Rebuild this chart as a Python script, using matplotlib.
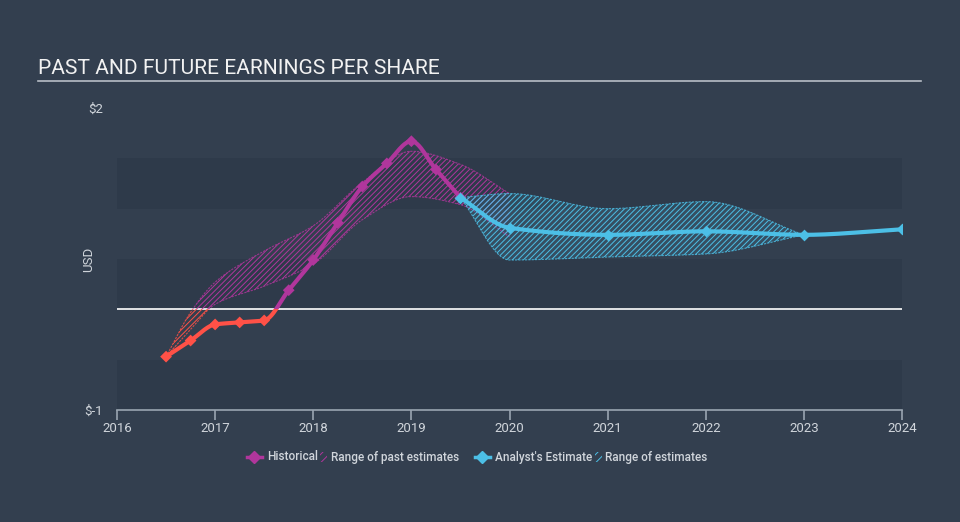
import numpy as np
import matplotlib.pyplot as plt
from matplotlib.patches import Rectangle
from matplotlib.lines import Line2D

plt.rcParams['font.family'] = ['Roboto', 'DejaVu Sans']
plt.rcParams['hatch.linewidth'] = 0.7

# data
hist_years = [2016.5, 2016.75, 2017.0, 2017.25, 2017.5, 2017.75, 2018.0,
              2018.25, 2018.5, 2018.75, 2019.0, 2019.25, 2019.5]
hist_eps = [-0.47, -0.31, -0.15, -0.13, -0.11, 0.19, 0.49,
            0.86, 1.22, 1.45, 1.67, 1.39, 1.11]

past_years = [2016.5, 2016.75, 2017.0, 2017.5, 2018.0, 2018.5, 2019.0, 2019.5, 2020.0]
past_high = [-0.47, -0.03, 0.27, 0.58, 0.83, 1.26, 1.57, 1.44, 1.15]
past_low = [-0.47, -0.20, 0.05, 0.23, 0.45, 0.89, 1.12, 1.04, 0.72]

fc_years = [2019.5, 2020, 2021, 2022, 2023, 2024]
fc_eps = [1.11, 0.81, 0.74, 0.775, 0.74, 0.795]

fc_range_years = [2019.5, 2020, 2021, 2022, 2023]
fc_high = [1.11, 1.15, 1.00, 1.07, 0.74]
fc_low = [1.11, 0.49, 0.52, 0.55, 0.74]

year_ticks = [2016, 2017, 2018, 2019, 2020, 2021, 2022, 2023, 2024]

BG = '#333f4f'
BAND = '#2e3a4a'
MAGENTA = '#b0369c'
RED = '#ff5147'
BLUE = '#4cbfe6'
TXT = '#d0d5db'


def monotone(x, y, n=300):
    # monotone cubic (Fritsch-Carlson) for drawing smooth curves
    x = np.asarray(x, float)
    y = np.asarray(y, float)
    h = np.diff(x)
    d = np.diff(y) / h
    m = np.zeros_like(y)
    m[0] = d[0]
    m[-1] = d[-1]
    for i in range(1, len(x) - 1):
        if d[i - 1] * d[i] <= 0:
            m[i] = 0
        else:
            m[i] = 3 * (h[i - 1] + h[i]) / ((2 * h[i] + h[i - 1]) / d[i - 1] +
                                            (h[i] + 2 * h[i - 1]) / d[i])
    xs = np.linspace(x[0], x[-1], n)
    idx = np.clip(np.searchsorted(x, xs) - 1, 0, len(h) - 1)
    t = (xs - x[idx]) / h[idx]
    h00 = 2 * t**3 - 3 * t**2 + 1
    h10 = t**3 - 2 * t**2 + t
    h01 = -2 * t**3 + 3 * t**2
    h11 = t**3 - t**2
    ys = h00 * y[idx] + h10 * h[idx] * m[idx] + h01 * y[idx + 1] + h11 * h[idx] * m[idx + 1]
    return xs, ys


fig = plt.figure(figsize=(9.6, 5.22), dpi=100, facecolor=BG)
ax = fig.add_axes([117 / 960, 112 / 522, 785 / 960, 302 / 522])
ax.set_facecolor(BG)
ax.set_xlim(2016, 2024)
ax.set_ylim(-1, 2)

# background bands
for lo in [-1.0, 0.0, 1.0]:
    ax.axhspan(lo, lo + 0.5, color=BAND, lw=0, zorder=0)
ax.axhline(0, color='white', lw=1.2, zorder=1)

above = Rectangle((2015, 0), 10, 5, transform=ax.transData)
below = Rectangle((2015, -5), 10, 5, transform=ax.transData)

# range of past estimates
px, ph = monotone(past_years, past_high)
_, pl = monotone(past_years, past_low)
for col, clip in [(MAGENTA, above), (RED, below)]:
    f = ax.fill_between(px, pl, ph, facecolor=(0, 0, 0, 0), edgecolor=col,
                        hatch='//////', lw=0, zorder=2)
    f.set_clip_path(clip)
    for yy in (ph, pl):
        ln, = ax.plot(px, yy, color=col, lw=0.8, ls=(0, (2, 1)), alpha=0.8, zorder=2)
        ln.set_clip_path(clip)

# range of analyst estimates
fx, fh = monotone(fc_range_years, fc_high)
_, fl = monotone(fc_range_years, fc_low)
ax.fill_between(fx, fl, fh, facecolor=(0.3, 0.75, 0.9, 0.12), edgecolor=BLUE,
                hatch='//////', lw=0, zorder=3)
ax.plot(fx, fh, color=BLUE, lw=0.8, ls=(0, (2, 1)), alpha=0.8, zorder=3)
ax.plot(fx, fl, color=BLUE, lw=0.8, ls=(0, (2, 1)), alpha=0.8, zorder=3)

# historical line, red below zero
hx, hy = monotone(hist_years, hist_eps)
for col, clip in [(MAGENTA, above), (RED, below)]:
    ln, = ax.plot(hx, hy, color=col, lw=3, solid_capstyle='round', zorder=4)
    ln.set_clip_path(clip)
hcols = [RED if v < 0 else MAGENTA for v in hist_eps]
ax.scatter(hist_years, hist_eps, marker='D', s=36, c=hcols, lw=0, zorder=5)

# analyst estimate
ex, ey = monotone(fc_years, fc_eps)
ax.plot(ex, ey, color=BLUE, lw=3, zorder=6)
ax.scatter(fc_years, fc_eps, marker='D', s=36, color=BLUE, lw=0, zorder=7)

# axes styling
for s in ['top', 'right', 'left']:
    ax.spines[s].set_visible(False)
ax.spines['bottom'].set_color('#9aa5b1')
ax.spines['bottom'].set_linewidth(1.2)
ax.set_xticks(year_ticks)
ax.set_xticklabels([str(y) for y in year_ticks])
ax.tick_params(axis='x', colors='#9aa5b1', labelcolor=TXT, labelsize=9.5,
               length=7, width=1.2, pad=2)
ax.set_yticks([-1, 2])
ax.set_yticklabels(['$-1', '$2'])
ax.tick_params(axis='y', length=0, labelcolor=TXT, labelsize=9.5, pad=10)
ax.set_ylabel('USD', color=TXT, fontsize=9.5)
ax.yaxis.set_label_coords(-0.028, 0.5)

# title
fig.text(38 / 960, 1 - 68 / 522, 'PAST AND FUTURE EARNINGS PER SHARE', color='#f2f2f2',
         fontsize=15.1, va='center', ha='left')
fig.add_artist(Line2D([38 / 960, 921 / 960], [1 - 81 / 522, 1 - 81 / 522],
                      color='#b8bec6', lw=1.2, transform=fig.transFigure))

# legend drawn by hand
ly = 1 - 457 / 522


def leg_marker(x0, col):
    fig.add_artist(Line2D([x0 / 960, (x0 + 15) / 960], [ly, ly], color=col, lw=2.5,
                          transform=fig.transFigure))
    fig.add_artist(Line2D([(x0 + 7.5) / 960], [ly], color=col, marker='D', ms=6,
                          lw=0, transform=fig.transFigure))


def leg_hatch(x0, col):
    fig.add_artist(Rectangle((x0 / 960, ly - 5 / 522), 7 / 960, 10 / 522,
                             facecolor='none', edgecolor=col, hatch='////', lw=0,
                             transform=fig.transFigure))


leg_marker(247, MAGENTA)
fig.text(267 / 960, ly, 'Historical', color=TXT, fontsize=8.5, va='center',
         fontweight='medium')
leg_hatch(320, MAGENTA)
fig.text(331 / 960, ly, 'Range of past estimates', color=TXT, fontsize=8.5,
         va='center', fontweight='medium')
leg_marker(475, BLUE)
fig.text(495 / 960, ly, "Analyst's Estimate", color=TXT, fontsize=8.5, va='center',
         fontweight='medium')
leg_hatch(595, BLUE)
fig.text(605 / 960, ly, 'Range of estimates', color=TXT, fontsize=8.5, va='center',
         fontweight='medium')

fig.savefig('out.png', dpi=100, facecolor=BG)
